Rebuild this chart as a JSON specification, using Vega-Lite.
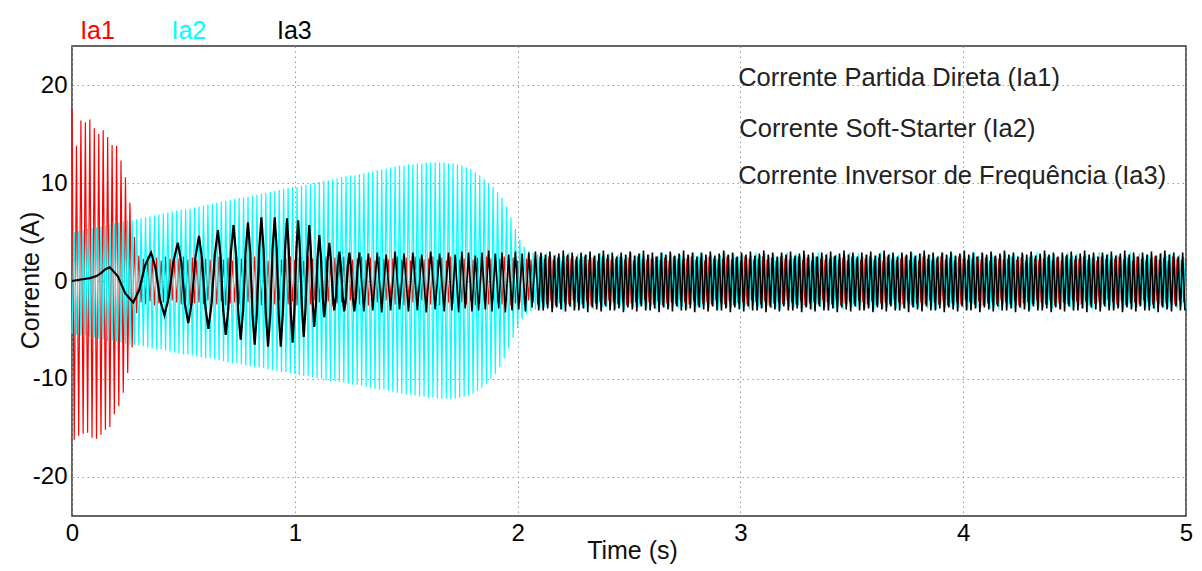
{
"$schema":"https://vega.github.io/schema/vega-lite/v6.json",
"width":1114,"height":470,
"autosize":{"type":"none"},
"padding":{"left":72,"top":46,"right":16,"bottom":55},
"background":"white",
"config":{
"view":{"stroke":"#333","strokeWidth":1.5},
"axis":{"labelFont":"Liberation Sans","titleFont":"Liberation Sans","labelFontSize":24,"titleFontSize":25,"labelColor":"#000","titleColor":"#111","titleFontWeight":"normal","grid":true,"gridColor":"#999","gridDash":[1.5,3.5],"gridWidth":1,"domain":false,"ticks":false,"labelPadding":5,"labelFlush":false},
"text":{"font":"Liberation Sans"}
},
"data":{"values":[
{"t":0,"a":17.6,"b":-5.4},{"t":0.01,"a":-16.2,"b":5.0},{"t":0.02,"a":13.8,"b":-5.5},{"t":0.03,"a":-15.8,"b":5.1},{"t":0.04,"a":16.4,"b":-5.6},{"t":0.05,"a":-15.6,"b":5.2},{"t":0.06,"a":16.2,"b":-5.6},{"t":0.07,"a":-15.5,"b":5.3},{"t":0.08,"a":16.5,"b":-5.7},{"t":0.09,"a":-16.0,"b":5.4},
{"t":0.10,"a":15.6,"b":-5.8},{"t":0.11,"a":-16.1,"b":5.5},{"t":0.12,"a":15.0,"b":-5.9},{"t":0.13,"a":-15.7,"b":5.6},{"t":0.14,"a":15.4,"b":-6.0},{"t":0.15,"a":-15.2,"b":5.7},{"t":0.16,"a":14.7,"b":-6.1},{"t":0.17,"a":-14.9,"b":5.8},{"t":0.18,"a":13.9,"b":-6.1},{"t":0.19,"a":-13.6,"b":5.9},
{"t":0.20,"a":13.8,"b":-6.2},{"t":0.21,"a":-12.8,"b":6.0},{"t":0.22,"a":12.3,"b":-6.3},{"t":0.23,"a":-11.4,"b":6.1},{"t":0.24,"a":10.6,"b":-6.4},{"t":0.25,"a":-9.4,"b":6.2},{"t":0.26,"a":8.0,"b":-6.5},{"t":0.27,"a":-6.8,"b":6.2},{"t":0.28,"a":4.5,"b":-6.5},{"t":0.29,"a":-3.3,"b":6.3},
{"t":0.30,"a":2.6,"b":-6.6},{"t":0.31,"a":-2.2,"b":6.4},{"t":0.32,"a":2.3,"b":-6.7},{"t":0.33,"a":-2.4,"b":6.5},{"t":0.34,"a":2.5,"b":-6.8},{"t":0.35,"a":-2.1,"b":6.6},{"t":0.36,"a":2.2,"b":-6.9},{"t":0.37,"a":-2.5,"b":6.7},{"t":0.38,"a":2.4,"b":-7.0},{"t":0.39,"a":-2.3,"b":6.8},
{"t":0.40,"a":2.1,"b":-7.0},{"t":0.41,"a":-2.2,"b":6.9},{"t":0.42,"a":2.5,"b":-7.1},{"t":0.43,"a":-2.4,"b":7.0},{"t":0.44,"a":2.3,"b":-7.2},{"t":0.45,"a":-2.0,"b":7.1},{"t":0.46,"a":2.2,"b":-7.3},{"t":0.47,"a":-2.2,"b":7.2},{"t":0.48,"a":2.3,"b":-7.4},{"t":0.49,"a":-2.4,"b":7.3},
{"t":0.50,"a":2.5,"b":-7.5},{"t":0.51,"a":-2.1,"b":7.3},{"t":0.52,"a":2.2,"b":-7.5},{"t":0.53,"a":-2.5,"b":7.4},{"t":0.54,"a":2.4,"b":-7.6},{"t":0.55,"a":-2.3,"b":7.5},{"t":0.56,"a":2.1,"b":-7.7},{"t":0.57,"a":-2.2,"b":7.6},{"t":0.58,"a":2.5,"b":-7.8},{"t":0.59,"a":-2.4,"b":7.7},
{"t":0.60,"a":2.3,"b":-7.9},{"t":0.61,"a":-2.0,"b":7.8},{"t":0.62,"a":2.2,"b":-7.9},{"t":0.63,"a":-2.2,"b":7.9},{"t":0.64,"a":2.3,"b":-8.0},{"t":0.65,"a":-2.4,"b":8.0},{"t":0.66,"a":2.5,"b":-8.1},{"t":0.67,"a":-2.1,"b":8.1},{"t":0.68,"a":2.2,"b":-8.2},{"t":0.69,"a":-2.5,"b":8.2},
{"t":0.70,"a":2.4,"b":-8.3},{"t":0.71,"a":-2.3,"b":8.3},{"t":0.72,"a":2.1,"b":-8.4},{"t":0.73,"a":-2.2,"b":8.4},{"t":0.74,"a":2.5,"b":-8.4},{"t":0.75,"a":-2.4,"b":8.5},{"t":0.76,"a":2.3,"b":-8.5},{"t":0.77,"a":-2.0,"b":8.5},{"t":0.78,"a":2.2,"b":-8.6},{"t":0.79,"a":-2.2,"b":8.6},
{"t":0.80,"a":2.3,"b":-8.7},{"t":0.81,"a":-2.4,"b":8.7},{"t":0.82,"a":2.5,"b":-8.8},{"t":0.83,"a":-2.1,"b":8.8},{"t":0.84,"a":2.2,"b":-8.8},{"t":0.85,"a":-2.5,"b":8.9},{"t":0.86,"a":2.4,"b":-8.9},{"t":0.87,"a":-2.3,"b":9.0},{"t":0.88,"a":2.1,"b":-9.0},{"t":0.89,"a":-2.2,"b":9.1},
{"t":0.90,"a":2.5,"b":-9.1},{"t":0.91,"a":-2.4,"b":9.2},{"t":0.92,"a":2.3,"b":-9.2},{"t":0.93,"a":-2.0,"b":9.3},{"t":0.94,"a":2.2,"b":-9.3},{"t":0.95,"a":-2.2,"b":9.4},{"t":0.96,"a":2.3,"b":-9.3},{"t":0.97,"a":-2.4,"b":9.5},{"t":0.98,"a":2.5,"b":-9.4},{"t":0.99,"a":-2.1,"b":9.6},
{"t":1.00,"a":2.2,"b":-9.5},{"t":1.01,"a":-2.5,"b":9.6},{"t":1.02,"a":2.4,"b":-9.6},{"t":1.03,"a":-2.3,"b":9.7},{"t":1.04,"a":2.1,"b":-9.7},{"t":1.05,"a":-2.2,"b":9.8},{"t":1.06,"a":2.5,"b":-9.7},{"t":1.07,"a":-2.4,"b":9.9},{"t":1.08,"a":2.3,"b":-9.8},{"t":1.09,"a":-2.0,"b":10.0},
{"t":1.10,"a":2.2,"b":-9.9},{"t":1.11,"a":-2.2,"b":10.1},{"t":1.12,"a":2.3,"b":-10.0},{"t":1.13,"a":-2.4,"b":10.2},{"t":1.14,"a":2.5,"b":-10.1},{"t":1.15,"a":-2.1,"b":10.3},{"t":1.16,"a":2.2,"b":-10.2},{"t":1.17,"a":-2.5,"b":10.4},{"t":1.18,"a":2.4,"b":-10.2},{"t":1.19,"a":-2.3,"b":10.5},
{"t":1.20,"a":2.1,"b":-10.3},{"t":1.21,"a":-2.2,"b":10.6},{"t":1.22,"a":2.5,"b":-10.4},{"t":1.23,"a":-2.4,"b":10.7},{"t":1.24,"a":2.3,"b":-10.5},{"t":1.25,"a":-2.0,"b":10.8},{"t":1.26,"a":2.2,"b":-10.6},{"t":1.27,"a":-2.2,"b":10.8},{"t":1.28,"a":2.3,"b":-10.6},{"t":1.29,"a":-2.4,"b":10.9},
{"t":1.30,"a":2.5,"b":-10.7},{"t":1.31,"a":-2.1,"b":11.0},{"t":1.32,"a":2.2,"b":-10.8},{"t":1.33,"a":-2.5,"b":11.1},{"t":1.34,"a":2.4,"b":-10.9},{"t":1.35,"a":-2.3,"b":11.2},{"t":1.36,"a":2.1,"b":-11.0},{"t":1.37,"a":-2.2,"b":11.3},{"t":1.38,"a":2.5,"b":-11.1},{"t":1.39,"a":-2.4,"b":11.4},
{"t":1.40,"a":2.3,"b":-11.1},{"t":1.41,"a":-2.0,"b":11.5},{"t":1.42,"a":2.2,"b":-11.2},{"t":1.43,"a":-2.2,"b":11.6},{"t":1.44,"a":2.3,"b":-11.3},{"t":1.45,"a":-2.4,"b":11.7},{"t":1.46,"a":2.5,"b":-11.4},{"t":1.47,"a":-2.1,"b":11.8},{"t":1.48,"a":2.2,"b":-11.5},{"t":1.49,"a":-2.5,"b":11.8},
{"t":1.50,"a":2.4,"b":-11.6},{"t":1.51,"a":-2.3,"b":11.9},{"t":1.52,"a":2.1,"b":-11.6},{"t":1.53,"a":-2.2,"b":11.9},{"t":1.54,"a":2.5,"b":-11.7},{"t":1.55,"a":-2.4,"b":12.0},{"t":1.56,"a":2.3,"b":-11.8},{"t":1.57,"a":-2.0,"b":12.0},{"t":1.58,"a":2.2,"b":-11.8},{"t":1.59,"a":-2.2,"b":12.1},
{"t":1.60,"a":2.3,"b":-11.9},{"t":1.61,"a":-2.4,"b":12.1},{"t":1.62,"a":2.5,"b":-11.9},{"t":1.63,"a":-2.1,"b":12.1},{"t":1.64,"a":2.2,"b":-12.0},{"t":1.65,"a":-2.5,"b":12.1},{"t":1.66,"a":2.4,"b":-12.0},{"t":1.67,"a":-2.3,"b":12.1},{"t":1.68,"a":2.1,"b":-12.0},{"t":1.69,"a":-2.2,"b":12.0},
{"t":1.70,"a":2.5,"b":-12.0},{"t":1.71,"a":-2.4,"b":12.0},{"t":1.72,"a":2.3,"b":-12.0},{"t":1.73,"a":-2.0,"b":11.9},{"t":1.74,"a":2.2,"b":-11.9},{"t":1.75,"a":-2.2,"b":11.8},{"t":1.76,"a":2.3,"b":-11.8},{"t":1.77,"a":-2.4,"b":11.6},{"t":1.78,"a":2.5,"b":-11.7},{"t":1.79,"a":-2.1,"b":11.4},
{"t":1.80,"a":2.2,"b":-11.5},{"t":1.81,"a":-2.5,"b":11.1},{"t":1.82,"a":2.4,"b":-11.2},{"t":1.83,"a":-2.3,"b":10.8},{"t":1.84,"a":2.1,"b":-10.9},{"t":1.85,"a":-2.2,"b":10.4},{"t":1.86,"a":2.5,"b":-10.5},{"t":1.87,"a":-2.4,"b":10.0},{"t":1.88,"a":2.3,"b":-10.0},{"t":1.89,"a":-2.0,"b":9.6},
{"t":1.90,"a":2.2,"b":-9.5},{"t":1.91,"a":-2.2,"b":9.1},{"t":1.92,"a":2.3,"b":-8.8},{"t":1.93,"a":-2.4,"b":8.5},{"t":1.94,"a":2.5,"b":-7.9},{"t":1.95,"a":-2.1,"b":7.6},{"t":1.96,"a":2.2,"b":-6.9},{"t":1.97,"a":-2.5,"b":6.5},{"t":1.98,"a":2.4,"b":-5.8},{"t":1.99,"a":-2.3,"b":5.3},
{"t":2.00,"a":2.1,"b":-4.8},{"t":2.01,"a":-2.2,"b":4.2},{"t":2.02,"a":2.5,"b":-3.9},{"t":2.03,"a":-2.4,"b":3.5},{"t":2.04,"a":2.3,"b":-3.4},{"t":2.05,"a":-2.0,"b":3.1},{"t":2.06,"a":2.2,"b":-3.1},{"t":2.07,"a":-2.2,"b":2.9},{"t":2.08,"a":2.3,"b":-2.9},{"t":2.09,"a":-2.4,"b":2.7},
{"t":2.10,"a":2.5,"b":-2.8},
{"t":2.11,"a":-2.2,"b":2.6},{"t":2.12,"a":2.3,"b":-2.7},{"t":2.13,"a":-2.4,"b":2.8},{"t":2.14,"a":2.5,"b":-2.5},{"t":2.15,"a":-2.1,"b":2.5},{"t":2.16,"a":2.2,"b":-2.8},{"t":2.17,"a":-2.5,"b":2.7},{"t":2.18,"a":2.4,"b":-2.6},{"t":2.19,"a":-2.3,"b":2.4},{"t":2.20,"a":2.1,"b":-2.9},
{"t":2.21,"a":-2.2,"b":2.6},{"t":2.22,"a":2.5,"b":-2.4},{"t":2.23,"a":-2.4,"b":2.9},{"t":2.24,"a":2.3,"b":-2.7},{"t":2.25,"a":-2.0,"b":2.6},{"t":2.26,"a":2.2,"b":-2.7},{"t":2.27,"a":-2.2,"b":2.8},{"t":2.28,"a":2.3,"b":-2.5},{"t":2.29,"a":-2.4,"b":2.5},{"t":2.30,"a":2.5,"b":-2.8},
{"t":2.31,"a":-2.1,"b":2.7},{"t":2.32,"a":2.2,"b":-2.6},{"t":2.33,"a":-2.5,"b":2.4},{"t":2.34,"a":2.4,"b":-2.9},{"t":2.35,"a":-2.3,"b":2.6},{"t":2.36,"a":2.1,"b":-2.4},{"t":2.37,"a":-2.2,"b":2.9},{"t":2.38,"a":2.5,"b":-2.7},{"t":2.39,"a":-2.4,"b":2.6},{"t":2.40,"a":2.3,"b":-2.7},
{"t":2.41,"a":-2.0,"b":2.8},{"t":2.42,"a":2.2,"b":-2.5},{"t":2.43,"a":-2.2,"b":2.5},{"t":2.44,"a":2.3,"b":-2.8},{"t":2.45,"a":-2.4,"b":2.7},{"t":2.46,"a":2.5,"b":-2.6},{"t":2.47,"a":-2.1,"b":2.4},{"t":2.48,"a":2.2,"b":-2.9},{"t":2.49,"a":-2.5,"b":2.6},{"t":2.50,"a":2.4,"b":-2.4},
{"t":2.51,"a":-2.3,"b":2.9},{"t":2.52,"a":2.1,"b":-2.7},{"t":2.53,"a":-2.2,"b":2.6},{"t":2.54,"a":2.5,"b":-2.7},{"t":2.55,"a":-2.4,"b":2.8},{"t":2.56,"a":2.3,"b":-2.5},{"t":2.57,"a":-2.0,"b":2.5},{"t":2.58,"a":2.2,"b":-2.8},{"t":2.59,"a":-2.2,"b":2.7},{"t":2.60,"a":2.3,"b":-2.6},
{"t":2.61,"a":-2.4,"b":2.4},{"t":2.62,"a":2.5,"b":-2.9},{"t":2.63,"a":-2.1,"b":2.6},{"t":2.64,"a":2.2,"b":-2.4},{"t":2.65,"a":-2.5,"b":2.9},{"t":2.66,"a":2.4,"b":-2.7},{"t":2.67,"a":-2.3,"b":2.6},{"t":2.68,"a":2.1,"b":-2.7},{"t":2.69,"a":-2.2,"b":2.8},{"t":2.70,"a":2.5,"b":-2.5},
{"t":2.71,"a":-2.4,"b":2.5},{"t":2.72,"a":2.3,"b":-2.8},{"t":2.73,"a":-2.0,"b":2.7},{"t":2.74,"a":2.2,"b":-2.6},{"t":2.75,"a":-2.2,"b":2.4},{"t":2.76,"a":2.3,"b":-2.9},{"t":2.77,"a":-2.4,"b":2.6},{"t":2.78,"a":2.5,"b":-2.4},{"t":2.79,"a":-2.1,"b":2.9},{"t":2.80,"a":2.2,"b":-2.7},
{"t":2.81,"a":-2.5,"b":2.6},{"t":2.82,"a":2.4,"b":-2.7},{"t":2.83,"a":-2.3,"b":2.8},{"t":2.84,"a":2.1,"b":-2.5},{"t":2.85,"a":-2.2,"b":2.5},{"t":2.86,"a":2.5,"b":-2.8},{"t":2.87,"a":-2.4,"b":2.7},{"t":2.88,"a":2.3,"b":-2.6},{"t":2.89,"a":-2.0,"b":2.4},{"t":2.90,"a":2.2,"b":-2.9},
{"t":2.91,"a":-2.2,"b":2.6},{"t":2.92,"a":2.3,"b":-2.4},{"t":2.93,"a":-2.4,"b":2.9},{"t":2.94,"a":2.5,"b":-2.7},{"t":2.95,"a":-2.1,"b":2.6},{"t":2.96,"a":2.2,"b":-2.7},{"t":2.97,"a":-2.5,"b":2.8},{"t":2.98,"a":2.4,"b":-2.5},{"t":2.99,"a":-2.3,"b":2.5},{"t":3.00,"a":2.1,"b":-2.8},
{"t":3.01,"a":-2.2,"b":2.7},{"t":3.02,"a":2.5,"b":-2.6},{"t":3.03,"a":-2.4,"b":2.4},{"t":3.04,"a":2.3,"b":-2.9},{"t":3.05,"a":-2.0,"b":2.6},{"t":3.06,"a":2.2,"b":-2.4},{"t":3.07,"a":-2.2,"b":2.9},{"t":3.08,"a":2.3,"b":-2.7},{"t":3.09,"a":-2.4,"b":2.6},{"t":3.10,"a":2.5,"b":-2.7},
{"t":3.11,"a":-2.1,"b":2.8},{"t":3.12,"a":2.2,"b":-2.5},{"t":3.13,"a":-2.5,"b":2.5},{"t":3.14,"a":2.4,"b":-2.8},{"t":3.15,"a":-2.3,"b":2.7},{"t":3.16,"a":2.1,"b":-2.6},{"t":3.17,"a":-2.2,"b":2.4},{"t":3.18,"a":2.5,"b":-2.9},{"t":3.19,"a":-2.4,"b":2.6},{"t":3.20,"a":2.3,"b":-2.4},
{"t":3.21,"a":-2.0,"b":2.9},{"t":3.22,"a":2.2,"b":-2.7},
{"t":3.23,"a":-2.2,"b":2.6},{"t":3.24,"a":2.3,"b":-2.7},{"t":3.25,"a":-2.4,"b":2.8},{"t":3.26,"a":2.5,"b":-2.5},{"t":3.27,"a":-2.1,"b":2.5},{"t":3.28,"a":2.2,"b":-2.8},{"t":3.29,"a":-2.5,"b":2.7},{"t":3.30,"a":2.4,"b":-2.6},{"t":3.31,"a":-2.3,"b":2.4},{"t":3.32,"a":2.1,"b":-2.9},
{"t":3.33,"a":-2.2,"b":2.6},{"t":3.34,"a":2.5,"b":-2.4},{"t":3.35,"a":-2.4,"b":2.9},{"t":3.36,"a":2.3,"b":-2.7},{"t":3.37,"a":-2.0,"b":2.6},{"t":3.38,"a":2.2,"b":-2.7},{"t":3.39,"a":-2.2,"b":2.8},{"t":3.40,"a":2.3,"b":-2.5},{"t":3.41,"a":-2.4,"b":2.5},{"t":3.42,"a":2.5,"b":-2.8},
{"t":3.43,"a":-2.1,"b":2.7},{"t":3.44,"a":2.2,"b":-2.6},{"t":3.45,"a":-2.5,"b":2.4},{"t":3.46,"a":2.4,"b":-2.9},{"t":3.47,"a":-2.3,"b":2.6},{"t":3.48,"a":2.1,"b":-2.4},{"t":3.49,"a":-2.2,"b":2.9},{"t":3.50,"a":2.5,"b":-2.7},{"t":3.51,"a":-2.4,"b":2.6},{"t":3.52,"a":2.3,"b":-2.7},
{"t":3.53,"a":-2.0,"b":2.8},{"t":3.54,"a":2.2,"b":-2.5},{"t":3.55,"a":-2.2,"b":2.5},{"t":3.56,"a":2.3,"b":-2.8},{"t":3.57,"a":-2.4,"b":2.7},{"t":3.58,"a":2.5,"b":-2.6},{"t":3.59,"a":-2.1,"b":2.4},{"t":3.60,"a":2.2,"b":-2.9},{"t":3.61,"a":-2.5,"b":2.6},{"t":3.62,"a":2.4,"b":-2.4},
{"t":3.63,"a":-2.3,"b":2.9},{"t":3.64,"a":2.1,"b":-2.7},{"t":3.65,"a":-2.2,"b":2.6},{"t":3.66,"a":2.5,"b":-2.7},{"t":3.67,"a":-2.4,"b":2.8},{"t":3.68,"a":2.3,"b":-2.5},{"t":3.69,"a":-2.0,"b":2.5},{"t":3.70,"a":2.2,"b":-2.8},{"t":3.71,"a":-2.2,"b":2.7},{"t":3.72,"a":2.3,"b":-2.6},
{"t":3.73,"a":-2.4,"b":2.4},{"t":3.74,"a":2.5,"b":-2.9},{"t":3.75,"a":-2.1,"b":2.6},{"t":3.76,"a":2.2,"b":-2.4},{"t":3.77,"a":-2.5,"b":2.9},{"t":3.78,"a":2.4,"b":-2.7},{"t":3.79,"a":-2.3,"b":2.6},{"t":3.80,"a":2.1,"b":-2.7},{"t":3.81,"a":-2.2,"b":2.8},{"t":3.82,"a":2.5,"b":-2.5},
{"t":3.83,"a":-2.4,"b":2.5},{"t":3.84,"a":2.3,"b":-2.8},{"t":3.85,"a":-2.0,"b":2.7},{"t":3.86,"a":2.2,"b":-2.6},{"t":3.87,"a":-2.2,"b":2.4},{"t":3.88,"a":2.3,"b":-2.9},{"t":3.89,"a":-2.4,"b":2.6},{"t":3.90,"a":2.5,"b":-2.4},{"t":3.91,"a":-2.1,"b":2.9},{"t":3.92,"a":2.2,"b":-2.7},
{"t":3.93,"a":-2.5,"b":2.6},{"t":3.94,"a":2.4,"b":-2.7},{"t":3.95,"a":-2.3,"b":2.8},{"t":3.96,"a":2.1,"b":-2.5},{"t":3.97,"a":-2.2,"b":2.5},{"t":3.98,"a":2.5,"b":-2.8},{"t":3.99,"a":-2.4,"b":2.7},{"t":4.00,"a":2.3,"b":-2.6},{"t":4.01,"a":-2.0,"b":2.4},{"t":4.02,"a":2.2,"b":-2.9},
{"t":4.03,"a":-2.2,"b":2.6},{"t":4.04,"a":2.3,"b":-2.4},{"t":4.05,"a":-2.4,"b":2.9},{"t":4.06,"a":2.5,"b":-2.7},{"t":4.07,"a":-2.1,"b":2.6},{"t":4.08,"a":2.2,"b":-2.7},{"t":4.09,"a":-2.5,"b":2.8},{"t":4.10,"a":2.4,"b":-2.5},{"t":4.11,"a":-2.3,"b":2.5},{"t":4.12,"a":2.1,"b":-2.8},
{"t":4.13,"a":-2.2,"b":2.7},{"t":4.14,"a":2.5,"b":-2.6},{"t":4.15,"a":-2.4,"b":2.4},{"t":4.16,"a":2.3,"b":-2.9},{"t":4.17,"a":-2.0,"b":2.6},{"t":4.18,"a":2.2,"b":-2.4},{"t":4.19,"a":-2.2,"b":2.9},{"t":4.20,"a":2.3,"b":-2.7},{"t":4.21,"a":-2.4,"b":2.6},{"t":4.22,"a":2.5,"b":-2.7},
{"t":4.23,"a":-2.1,"b":2.8},{"t":4.24,"a":2.2,"b":-2.5},{"t":4.25,"a":-2.5,"b":2.5},{"t":4.26,"a":2.4,"b":-2.8},{"t":4.27,"a":-2.3,"b":2.7},{"t":4.28,"a":2.1,"b":-2.6},{"t":4.29,"a":-2.2,"b":2.4},{"t":4.30,"a":2.5,"b":-2.9},{"t":4.31,"a":-2.4,"b":2.6},{"t":4.32,"a":2.3,"b":-2.4},
{"t":4.33,"a":-2.0,"b":2.9},{"t":4.34,"a":2.2,"b":-2.7},
{"t":4.35,"a":-2.2,"b":2.6},{"t":4.36,"a":2.3,"b":-2.7},{"t":4.37,"a":-2.4,"b":2.8},{"t":4.38,"a":2.5,"b":-2.5},{"t":4.39,"a":-2.1,"b":2.5},{"t":4.40,"a":2.2,"b":-2.8},{"t":4.41,"a":-2.5,"b":2.7},{"t":4.42,"a":2.4,"b":-2.6},{"t":4.43,"a":-2.3,"b":2.4},{"t":4.44,"a":2.1,"b":-2.9},
{"t":4.45,"a":-2.2,"b":2.6},{"t":4.46,"a":2.5,"b":-2.4},{"t":4.47,"a":-2.4,"b":2.9},{"t":4.48,"a":2.3,"b":-2.7},{"t":4.49,"a":-2.0,"b":2.6},{"t":4.50,"a":2.2,"b":-2.7},{"t":4.51,"a":-2.2,"b":2.8},{"t":4.52,"a":2.3,"b":-2.5},{"t":4.53,"a":-2.4,"b":2.5},{"t":4.54,"a":2.5,"b":-2.8},
{"t":4.55,"a":-2.1,"b":2.7},{"t":4.56,"a":2.2,"b":-2.6},{"t":4.57,"a":-2.5,"b":2.4},{"t":4.58,"a":2.4,"b":-2.9},{"t":4.59,"a":-2.3,"b":2.6},{"t":4.60,"a":2.1,"b":-2.4},{"t":4.61,"a":-2.2,"b":2.9},{"t":4.62,"a":2.5,"b":-2.7},{"t":4.63,"a":-2.4,"b":2.6},{"t":4.64,"a":2.3,"b":-2.7},
{"t":4.65,"a":-2.0,"b":2.8},{"t":4.66,"a":2.2,"b":-2.5},{"t":4.67,"a":-2.2,"b":2.5},{"t":4.68,"a":2.3,"b":-2.8},{"t":4.69,"a":-2.4,"b":2.7},{"t":4.70,"a":2.5,"b":-2.6},{"t":4.71,"a":-2.1,"b":2.4},{"t":4.72,"a":2.2,"b":-2.9},{"t":4.73,"a":-2.5,"b":2.6},{"t":4.74,"a":2.4,"b":-2.4},
{"t":4.75,"a":-2.3,"b":2.9},{"t":4.76,"a":2.1,"b":-2.7},{"t":4.77,"a":-2.2,"b":2.6},{"t":4.78,"a":2.5,"b":-2.7},{"t":4.79,"a":-2.4,"b":2.8},{"t":4.80,"a":2.3,"b":-2.5},{"t":4.81,"a":-2.0,"b":2.5},{"t":4.82,"a":2.2,"b":-2.8},{"t":4.83,"a":-2.2,"b":2.7},{"t":4.84,"a":2.3,"b":-2.6},
{"t":4.85,"a":-2.4,"b":2.4},{"t":4.86,"a":2.5,"b":-2.9},{"t":4.87,"a":-2.1,"b":2.6},{"t":4.88,"a":2.2,"b":-2.4},{"t":4.89,"a":-2.5,"b":2.9},{"t":4.90,"a":2.4,"b":-2.7},{"t":4.91,"a":-2.3,"b":2.6},{"t":4.92,"a":2.1,"b":-2.7},{"t":4.93,"a":-2.2,"b":2.8},{"t":4.94,"a":2.5,"b":-2.5},
{"t":4.95,"a":-2.4,"b":2.5},{"t":4.96,"a":2.3,"b":-2.8},{"t":4.97,"a":-2.0,"b":2.7},{"t":4.98,"a":2.2,"b":-2.6},{"t":4.99,"a":-2.2,"b":2.4},{"t":5.00,"a":2.3,"b":-2.9}
]},
"encoding":{
"x":{"field":"t","type":"quantitative","scale":{"domain":[0,5],"nice":false,"zero":false},"axis":{"values":[0,1,2,3,4,5],"title":"Time (s)","titleX":560,"titleY":42,"titleAlign":"center","titleBaseline":"alphabetic","labelExpr":"'' + datum.value"}},
"y":{"field":"v","type":"quantitative","scale":{"domain":[-24,24],"nice":false,"zero":false},"axis":{"values":[-20,-10,0,10,20],"title":"Corrente (A)","titleAngle":270,"titleX":-34,"titleY":234,"titleAlign":"center","titleBaseline":"alphabetic","labelExpr":"'' + datum.value"}}
},
"layer":[
{"transform":[{"fold":["a"],"as":["s","v"]}],
"mark":{"type":"line","color":"#ff0000","strokeWidth":1.2}},
{"transform":[{"fold":["b"],"as":["s","v"]}],
"mark":{"type":"line","color":"#00ffff","strokeWidth":1.2}},
{"data":{"values":[
{"t":0,"v":0},{"t":0.04,"v":0.15},{"t":0.08,"v":0.3},{"t":0.11,"v":0.5},{"t":0.13,"v":0.8},{"t":0.15,"v":1.2},{"t":0.17,"v":1.4},{"t":0.205,"v":0.5},{"t":0.24,"v":-1.3},{"t":0.275,"v":-2.2},{"t":0.302,"v":-0.9},{"t":0.328,"v":1.6},{"t":0.355,"v":2.9},{"t":0.375,"v":1.3},{"t":0.395,"v":-1.9},{"t":0.415,"v":-3.5},{"t":0.435,"v":-1.6},{"t":0.455,"v":2.0},{"t":0.475,"v":3.9},{"t":0.491,"v":1.85},{"t":0.506,"v":-2.25},{"t":0.522,"v":-4.3},{"t":0.538,"v":-2.1},{"t":0.554,"v":2.4},{"t":0.57,"v":4.6},{"t":0.584,"v":2.2},{"t":0.598,"v":-2.5},{"t":0.612,"v":-4.9},{"t":0.626,"v":-2.4},{"t":0.641,"v":2.7},{"t":0.655,"v":5.2},{"t":0.667,"v":2.5},{"t":0.678,"v":-2.8},{"t":0.69,"v":-5.5},{"t":0.702,"v":-2.7},{"t":0.713,"v":2.9},{"t":0.725,"v":5.7},{"t":0.736,"v":2.8},{"t":0.746,"v":-3.1},{"t":0.757,"v":-6.0},{"t":0.768,"v":-3.0},{"t":0.779,"v":3.0},{"t":0.79,"v":6.0},{"t":0.8,"v":2.9},{"t":0.81,"v":-3.4},{"t":0.82,"v":-6.5},{"t":0.83,"v":-3.25},{"t":0.84,"v":3.25},{"t":0.85,"v":6.5},{"t":0.86,"v":3.2},{"t":0.87,"v":-3.4},{"t":0.88,"v":-6.7},{"t":0.89,"v":-3.4},{"t":0.9,"v":3.2},{"t":0.91,"v":6.5},{"t":0.919,"v":3.2},{"t":0.928,"v":-3.4},{"t":0.937,"v":-6.7},{"t":0.946,"v":-3.4},{"t":0.956,"v":3.1},{"t":0.965,"v":6.4},{"t":0.973,"v":3.2},{"t":0.982,"v":-3.1},{"t":0.99,"v":-6.3},{"t":0.998,"v":-3.1},{"t":1.007,"v":3.1},{"t":1.015,"v":6.2},{"t":1.023,"v":3.2},{"t":1.032,"v":-2.7},{"t":1.04,"v":-5.7},{"t":1.048,"v":-2.85},{"t":1.057,"v":2.85},{"t":1.065,"v":5.7},{"t":1.072,"v":3.1},{"t":1.08,"v":-2.1},{"t":1.087,"v":-4.7},{"t":1.095,"v":-2.35},{"t":1.102,"v":2.35},{"t":1.11,"v":4.7},{"t":1.117,"v":2.6},{"t":1.125,"v":-1.6},{"t":1.132,"v":-3.7},{"t":1.14,"v":-1.8},{"t":1.147,"v":2.0},{"t":1.155,"v":3.9},{"t":1.162,"v":2.2},{"t":1.17,"v":-1.3},{"t":1.177,"v":-3.0},{"t":1.185,"v":-1.5},{"t":1.192,"v":1.5},{"t":1.2,"v":3.0},{"t":1.207,"v":1.5},{"t":1.215,"v":-1.6},{"t":1.222,"v":-3.1},{"t":1.23,"v":-1.6},{"t":1.237,"v":1.4},{"t":1.245,"v":2.9},{"t":1.252,"v":1.4},{"t":1.26,"v":-1.6},{"t":1.267,"v":-3.1},{"t":1.275,"v":-1.6},{"t":1.282,"v":1.4},{"t":1.29,"v":2.9}
]},
"mark":{"type":"line","color":"#000000","strokeWidth":2.2}},
{"data":{"values":[
{"t":1.29,"v":2.9},{"t":1.31,"v":-3.1},{"t":1.33,"v":2.8},{"t":1.35,"v":-3.0},{"t":1.37,"v":2.9},{"t":1.39,"v":-3.2},{"t":1.41,"v":2.7},{"t":1.43,"v":-3.0},{"t":1.45,"v":3.0},{"t":1.47,"v":-2.9},{"t":1.49,"v":2.8},{"t":1.51,"v":-3.1},{"t":1.53,"v":2.9},{"t":1.55,"v":-3.0},{"t":1.57,"v":2.7},{"t":1.59,"v":-3.2},{"t":1.61,"v":3.0},{"t":1.63,"v":-2.9},{"t":1.65,"v":2.8},{"t":1.67,"v":-3.1},{"t":1.69,"v":2.9},
{"t":1.705,"v":-3.0},{"t":1.72,"v":2.7},{"t":1.735,"v":-3.2},{"t":1.75,"v":3.0},{"t":1.765,"v":-2.8},{"t":1.78,"v":2.9},{"t":1.795,"v":-3.1},{"t":1.81,"v":2.6},{"t":1.825,"v":-3.0},{"t":1.84,"v":2.9},{"t":1.855,"v":-2.9},{"t":1.87,"v":3.1},{"t":1.885,"v":-3.1},{"t":1.9,"v":2.8},{"t":1.915,"v":-2.8},{"t":1.93,"v":2.9},{"t":1.945,"v":-3.2},{"t":1.96,"v":2.7},{"t":1.975,"v":-3.0},{"t":1.99,"v":3.0},{"t":2.005,"v":-2.9},{"t":2.02,"v":2.8},{"t":2.035,"v":-3.1},{"t":2.05,"v":2.9},{"t":2.065,"v":-2.7},{"t":2.08,"v":3.0},{"t":2.095,"v":-3.0},
{"t":2.105,"v":2.9},{"t":2.115,"v":-3.0},{"t":2.125,"v":2.7},{"t":2.135,"v":-2.8},{"t":2.145,"v":3.0},{"t":2.155,"v":-3.2},{"t":2.165,"v":2.6},{"t":2.175,"v":-2.7},{"t":2.185,"v":2.8},{"t":2.195,"v":-2.9},{"t":2.205,"v":3.1},{"t":2.215,"v":-3.1},{"t":2.225,"v":2.7},{"t":2.235,"v":-2.6},{"t":2.245,"v":2.9},{"t":2.255,"v":-3.0},{"t":2.265,"v":2.5},{"t":2.275,"v":-3.0},
{"t":2.285,"v":2.9},{"t":2.295,"v":-2.8},{"t":2.305,"v":2.7},{"t":2.315,"v":-3.2},{"t":2.325,"v":3.0},{"t":2.335,"v":-2.7},{"t":2.345,"v":2.6},{"t":2.355,"v":-2.9},{"t":2.365,"v":2.8},{"t":2.375,"v":-3.1},{"t":2.385,"v":3.1},{"t":2.395,"v":-2.6},{"t":2.405,"v":2.7},{"t":2.415,"v":-3.0},{"t":2.425,"v":2.9},{"t":2.435,"v":-3.0},{"t":2.445,"v":2.5},{"t":2.455,"v":-2.8},
{"t":2.465,"v":2.9},{"t":2.475,"v":-3.2},{"t":2.485,"v":2.7},{"t":2.495,"v":-2.7},{"t":2.505,"v":3.0},{"t":2.515,"v":-2.9},{"t":2.525,"v":2.6},{"t":2.535,"v":-3.1},{"t":2.545,"v":2.8},{"t":2.555,"v":-2.6},{"t":2.565,"v":3.1},{"t":2.575,"v":-3.0},{"t":2.585,"v":2.7},{"t":2.595,"v":-3.0},{"t":2.605,"v":2.9},{"t":2.615,"v":-2.8},{"t":2.625,"v":2.5},{"t":2.635,"v":-3.2},
{"t":2.645,"v":2.9},{"t":2.655,"v":-2.7},{"t":2.665,"v":2.7},{"t":2.675,"v":-2.9},{"t":2.685,"v":3.0},{"t":2.695,"v":-3.1},{"t":2.705,"v":2.6},{"t":2.715,"v":-2.6},{"t":2.725,"v":2.8},{"t":2.735,"v":-3.0},{"t":2.745,"v":3.1},{"t":2.755,"v":-3.0},{"t":2.765,"v":2.7},{"t":2.775,"v":-2.8},{"t":2.785,"v":2.9},{"t":2.795,"v":-3.2},{"t":2.805,"v":2.5},{"t":2.815,"v":-2.7},
{"t":2.825,"v":2.9},{"t":2.835,"v":-2.9},{"t":2.845,"v":2.7},{"t":2.855,"v":-3.1},{"t":2.865,"v":3.0},{"t":2.875,"v":-2.6},{"t":2.885,"v":2.6},{"t":2.895,"v":-3.0},{"t":2.905,"v":2.8},{"t":2.915,"v":-3.0},{"t":2.925,"v":3.1},{"t":2.935,"v":-2.8},{"t":2.945,"v":2.7},{"t":2.955,"v":-3.2},{"t":2.965,"v":2.9},{"t":2.975,"v":-2.7},{"t":2.985,"v":2.5},{"t":2.995,"v":-2.9},
{"t":3.005,"v":2.9},{"t":3.015,"v":-3.1},{"t":3.025,"v":2.7},{"t":3.035,"v":-2.6},{"t":3.045,"v":3.0},{"t":3.055,"v":-3.0},{"t":3.065,"v":2.6},{"t":3.075,"v":-3.0},{"t":3.085,"v":2.8},{"t":3.095,"v":-2.8},{"t":3.105,"v":3.1},{"t":3.115,"v":-3.2},{"t":3.125,"v":2.7},{"t":3.135,"v":-2.7},{"t":3.145,"v":2.9},{"t":3.155,"v":-2.9},{"t":3.165,"v":2.5},{"t":3.175,"v":-3.1},
{"t":3.185,"v":2.9},{"t":3.195,"v":-2.6},{"t":3.205,"v":2.7},{"t":3.215,"v":-3.0},{"t":3.225,"v":3.0},{"t":3.235,"v":-3.0},{"t":3.245,"v":2.6},{"t":3.255,"v":-2.8},{"t":3.265,"v":2.8},{"t":3.275,"v":-3.2},{"t":3.285,"v":3.1},{"t":3.295,"v":-2.7},{"t":3.305,"v":2.7},{"t":3.315,"v":-2.9},{"t":3.325,"v":2.9},{"t":3.335,"v":-3.1},{"t":3.345,"v":2.5},{"t":3.355,"v":-2.6},
{"t":3.365,"v":2.9},{"t":3.375,"v":-3.0},{"t":3.385,"v":2.7},{"t":3.395,"v":-3.0},{"t":3.405,"v":3.0},{"t":3.415,"v":-2.8},{"t":3.425,"v":2.6},{"t":3.435,"v":-3.2},{"t":3.445,"v":2.8},{"t":3.455,"v":-2.7},{"t":3.465,"v":3.1},{"t":3.475,"v":-2.9},{"t":3.485,"v":2.7},{"t":3.495,"v":-3.1},{"t":3.505,"v":2.9},{"t":3.515,"v":-2.6},{"t":3.525,"v":2.5},{"t":3.535,"v":-3.0},
{"t":3.545,"v":2.9},{"t":3.555,"v":-3.0},{"t":3.565,"v":2.7},{"t":3.575,"v":-2.8},{"t":3.585,"v":3.0},{"t":3.595,"v":-3.2},{"t":3.605,"v":2.6},{"t":3.615,"v":-2.7},{"t":3.625,"v":2.8},{"t":3.635,"v":-2.9},{"t":3.645,"v":3.1},{"t":3.655,"v":-3.1},{"t":3.665,"v":2.7},{"t":3.675,"v":-2.6},{"t":3.685,"v":2.9},{"t":3.695,"v":-3.0},{"t":3.705,"v":2.5},{"t":3.715,"v":-3.0},
{"t":3.725,"v":2.9},{"t":3.735,"v":-2.8},{"t":3.745,"v":2.7},{"t":3.755,"v":-3.2},{"t":3.765,"v":3.0},{"t":3.775,"v":-2.7},{"t":3.785,"v":2.6},{"t":3.795,"v":-2.9},{"t":3.805,"v":2.8},{"t":3.815,"v":-3.1},{"t":3.825,"v":3.1},{"t":3.835,"v":-2.6},{"t":3.845,"v":2.7},{"t":3.855,"v":-3.0},{"t":3.865,"v":2.9},{"t":3.875,"v":-3.0},{"t":3.885,"v":2.5},{"t":3.895,"v":-2.8},
{"t":3.905,"v":2.9},{"t":3.915,"v":-3.2},{"t":3.925,"v":2.7},{"t":3.935,"v":-2.7},{"t":3.945,"v":3.0},{"t":3.955,"v":-2.9},{"t":3.965,"v":2.6},{"t":3.975,"v":-3.1},{"t":3.985,"v":2.8},{"t":3.995,"v":-2.6},{"t":4.005,"v":3.1},{"t":4.015,"v":-3.0},{"t":4.025,"v":2.7},{"t":4.035,"v":-3.0},{"t":4.045,"v":2.9},{"t":4.055,"v":-2.8},{"t":4.065,"v":2.5},{"t":4.075,"v":-3.2},
{"t":4.085,"v":2.9},{"t":4.095,"v":-2.7},{"t":4.105,"v":2.7},{"t":4.115,"v":-2.9},{"t":4.125,"v":3.0},{"t":4.135,"v":-3.1},{"t":4.145,"v":2.6},{"t":4.155,"v":-2.6},{"t":4.165,"v":2.8},{"t":4.175,"v":-3.0},{"t":4.185,"v":3.1},{"t":4.195,"v":-3.0},{"t":4.205,"v":2.7},{"t":4.215,"v":-2.8},{"t":4.225,"v":2.9},{"t":4.235,"v":-3.2},{"t":4.245,"v":2.5},{"t":4.255,"v":-2.7},
{"t":4.265,"v":2.9},{"t":4.275,"v":-2.9},{"t":4.285,"v":2.7},{"t":4.295,"v":-3.1},{"t":4.305,"v":3.0},{"t":4.315,"v":-2.6},{"t":4.325,"v":2.6},{"t":4.335,"v":-3.0},{"t":4.345,"v":2.8},{"t":4.355,"v":-3.0},{"t":4.365,"v":3.1},{"t":4.375,"v":-2.8},{"t":4.385,"v":2.7},{"t":4.395,"v":-3.2},{"t":4.405,"v":2.9},{"t":4.415,"v":-2.7},{"t":4.425,"v":2.5},{"t":4.435,"v":-2.9},
{"t":4.445,"v":2.9},{"t":4.455,"v":-3.1},{"t":4.465,"v":2.7},{"t":4.475,"v":-2.6},{"t":4.485,"v":3.0},{"t":4.495,"v":-3.0},{"t":4.505,"v":2.6},{"t":4.515,"v":-3.0},{"t":4.525,"v":2.8},{"t":4.535,"v":-2.8},{"t":4.545,"v":3.1},{"t":4.555,"v":-3.2},{"t":4.565,"v":2.7},{"t":4.575,"v":-2.7},{"t":4.585,"v":2.9},{"t":4.595,"v":-2.9},{"t":4.605,"v":2.5},{"t":4.615,"v":-3.1},
{"t":4.625,"v":2.9},{"t":4.635,"v":-2.6},{"t":4.645,"v":2.7},{"t":4.655,"v":-3.0},{"t":4.665,"v":3.0},{"t":4.675,"v":-3.0},{"t":4.685,"v":2.6},{"t":4.695,"v":-2.8},{"t":4.705,"v":2.8},{"t":4.715,"v":-3.2},{"t":4.725,"v":3.1},{"t":4.735,"v":-2.7},{"t":4.745,"v":2.7},{"t":4.755,"v":-2.9},{"t":4.765,"v":2.9},{"t":4.775,"v":-3.1},{"t":4.785,"v":2.5},{"t":4.795,"v":-2.6},
{"t":4.805,"v":2.9},{"t":4.815,"v":-3.0},{"t":4.825,"v":2.7},{"t":4.835,"v":-3.0},{"t":4.845,"v":3.0},{"t":4.855,"v":-2.8},{"t":4.865,"v":2.6},{"t":4.875,"v":-3.2},{"t":4.885,"v":2.8},{"t":4.895,"v":-2.7},{"t":4.905,"v":3.1},{"t":4.915,"v":-2.9},{"t":4.925,"v":2.7},{"t":4.935,"v":-3.1},{"t":4.945,"v":2.9},{"t":4.955,"v":-2.6},{"t":4.965,"v":2.5},{"t":4.975,"v":-3.0},
{"t":4.985,"v":2.9},{"t":4.995,"v":-3.0}
]},
"mark":{"type":"line","color":"#000000","strokeWidth":1.6}},
{"data":{"values":[{"lbl":"Ia1","t":0.1145,"v":24.75},{"lbl":"Ia2","t":0.5245,"v":24.75},{"lbl":"Ia3","t":0.998,"v":24.75}]},
"mark":{"type":"text","fontSize":25,"align":"center","baseline":"alphabetic","font":"Liberation Sans"},
"encoding":{
"text":{"field":"lbl"},
"color":{"field":"lbl","type":"nominal","scale":{"domain":["Ia1","Ia2","Ia3"],"range":["#ff0000","#00ffff","#000000"]},"legend":null}}},
{"data":{"values":[{"txt":"Corrente Partida Direta (Ia1)","t":2.99,"v":19.88},{"txt":"Corrente Soft-Starter (Ia2)","t":2.995,"v":14.71},{"txt":"Corrente Inversor de Frequência (Ia3)","t":2.99,"v":9.88}]},
"mark":{"type":"text","fontSize":25.5,"align":"left","baseline":"alphabetic","font":"Liberation Sans","color":"#222"},
"encoding":{"text":{"field":"txt"}}}
]
}
